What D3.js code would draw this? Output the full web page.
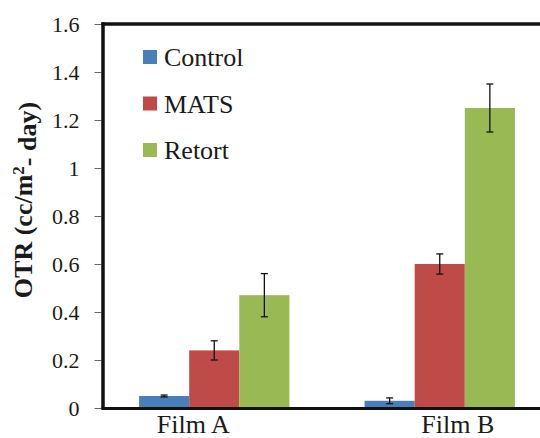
<!DOCTYPE html>
<html>
<head>
<meta charset="utf-8">
<script src="https://cdn.jsdelivr.net/npm/d3@7"></script>
<style>
  html, body { margin: 0; padding: 0; background: #fff; }
  svg { display: block; }
  svg text { font-family: "Liberation Serif", "Times New Roman", serif; }
</style>
</head>
<body>
<svg id="chart" width="540" height="438" font-family="Liberation Serif"></svg>
<script>
// OTR of two films under three treatments, mean with error bars
const films = ["Film A", "Film B"];
const series = ["Control", "MATS", "Retort"];
const controlValues = [0.05, 0.03];
const matsValues = [0.24, 0.60];
const retortValues = [0.47, 1.25];
const controlErrors = [0.004, 0.012];
const matsErrors = [0.04, 0.042];
const retortErrors = [0.09, 0.10];
const yTicks = [0, 0.2, 0.4, 0.6, 0.8, 1, 1.2, 1.4, 1.6];
const colors = ["#4a7ebb", "#be4b48", "#98b954"];

const serifFont = "Liberation Serif";
const textColor = "#1a1a1a";

const valuesBySeries = [controlValues, matsValues, retortValues];
const errorsBySeries = [controlErrors, matsErrors, retortErrors];
const rows = [];
films.forEach((f, i) => {
  series.forEach((s, j) => {
    rows.push({ film: f, series: s, value: valuesBySeries[j][i], err: errorsBySeries[j][i], color: colors[j] });
  });
});

const svg = d3.select("#chart");
const plot = { left: 101.5, top: 24, bottom: 408, right: 552.5 };

const x = d3.scaleBand().domain(films).range([plot.left, plot.right]).paddingInner(0).paddingOuter(0);
const xInner = d3.scaleBand().domain(series).range([0, x.bandwidth()]).paddingInner(0).paddingOuter(0.75);
const y = d3.scaleLinear().domain([0, 1.6]).range([plot.bottom, plot.top]);

// y axis ticks and labels
const yAxis = d3.axisLeft(y).tickValues(yTicks).tickFormat(d3.format("~g")).tickSize(7).tickPadding(15);
const gy = svg.append("g").attr("transform", `translate(${plot.left},0)`).call(yAxis)
  .attr("font-family", serifFont).attr("font-size", null);
gy.select(".domain").remove();
gy.selectAll(".tick line").attr("stroke", "#666").attr("stroke-width", 1);
gy.selectAll(".tick text")
  .attr("font-family", serifFont).attr("font-size", 22)
  .attr("fill", textColor).attr("dy", "0.34em");

// bars
svg.append("g").selectAll("rect").data(rows).join("rect")
  .attr("x", d => x(d.film) + xInner(d.series))
  .attr("y", d => y(d.value))
  .attr("width", xInner.bandwidth())
  .attr("height", d => y(0) - y(d.value))
  .attr("fill", d => d.color);

// error bars
const eb = svg.append("g").attr("stroke", "#111").attr("stroke-width", 1.3);
const cap = 3.5;
rows.forEach(d => {
  const cx = x(d.film) + xInner(d.series) + xInner.bandwidth() / 2;
  const yHi = y(d.value + d.err), yLo = y(d.value - d.err);
  eb.append("line").attr("x1", cx).attr("x2", cx).attr("y1", yHi).attr("y2", yLo);
  eb.append("line").attr("x1", cx - cap).attr("x2", cx + cap).attr("y1", yHi).attr("y2", yHi);
  eb.append("line").attr("x1", cx - cap).attr("x2", cx + cap).attr("y1", yLo).attr("y2", yLo);
});

// plot frame: thick left and top edges, category axis along zero
svg.append("line").attr("x1", plot.left + 1.5).attr("x2", plot.left + 1.5)
  .attr("y1", plot.top - 1.7).attr("y2", plot.bottom + 1.5)
  .attr("stroke", "#111").attr("stroke-width", 3.5);
svg.append("line").attr("x1", plot.left).attr("x2", plot.right)
  .attr("y1", plot.top).attr("y2", plot.top)
  .attr("stroke", "#111").attr("stroke-width", 3.5);
svg.append("line").attr("x1", plot.left).attr("x2", plot.right)
  .attr("y1", y(0) + 0.5).attr("y2", y(0) + 0.5)
  .attr("stroke", "#111").attr("stroke-width", 3);

// category labels
const labelShift = { "Film A": -21, "Film B": 18 };
const xAxis = d3.axisBottom(x).tickSize(0).tickPadding(0);
const gx = svg.append("g").attr("transform", `translate(0,${plot.bottom})`).call(xAxis)
  .attr("font-family", serifFont).attr("font-size", null);
gx.select(".domain").remove();
gx.selectAll(".tick text")
  .attr("dx", d => labelShift[d])
  .attr("y", 25).attr("dy", 0)
  .attr("font-family", serifFont).attr("font-size", 26).attr("fill", textColor);

// y axis title
const title = svg.append("text")
  .attr("transform", "translate(32,200) rotate(-90)")
  .attr("text-anchor", "middle")
  .attr("font-family", serifFont)
  .attr("font-size", 26).attr("font-weight", "bold").attr("fill", textColor);
title.append("tspan").text("OTR (cc/m");
title.append("tspan").text("2").attr("dy", "-0.45em").attr("font-size", 17);
title.append("tspan").text("- day)").attr("dy", "0.45em");

// legend
const legend = svg.append("g").attr("transform", "translate(143,57)");
series.forEach((s, i) => {
  const item = legend.append("g").attr("transform", `translate(0,${i * 46.5})`);
  item.append("rect").attr("x", 0).attr("y", -7).attr("width", 14).attr("height", 14)
    .attr("fill", colors[i]);
  item.append("text").attr("x", 21).attr("y", 9)
    .attr("font-family", serifFont).attr("font-size", 26).attr("fill", textColor)
    .text(s);
});
</script>
</body>
</html>
